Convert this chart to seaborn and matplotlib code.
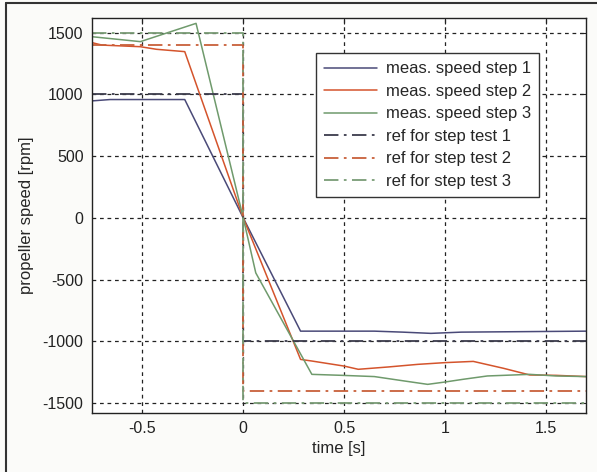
import numpy as np
import pandas as pd
import seaborn as sns
import matplotlib.pyplot as plt
from matplotlib.lines import Line2D

t1 = [-0.75, -0.66, -0.29, 0.0, 0.284, 0.65, 0.79, 0.93, 1.08, 1.7]
v1 = [948, 959, 959, 0, -917, -917, -925, -935, -925, -917]

t2 = [-0.75, -0.7, -0.51, -0.43, -0.29, 0.0, 0.284, 0.34, 0.5, 0.57, 0.72, 0.865, 1.0, 1.14, 1.29, 1.42, 1.55, 1.7]
v2 = [1420, 1400, 1387, 1366, 1347, 0, -1146, -1159, -1200, -1226, -1207, -1186, -1172, -1162, -1218, -1272, -1275, -1285]

t3 = [-0.75, -0.51, -0.234, 0.0, 0.062, 0.34, 0.49, 0.65, 0.8, 0.914, 1.0, 1.09, 1.21, 1.42, 1.55, 1.7]
v3 = [1468, 1428, 1576, 0, -445, -1267, -1275, -1285, -1321, -1348, -1329, -1307, -1280, -1267, -1280, -1285]

# reference steps
t_ref = [-0.75, 0.0, 0.0, 1.7]
r1 = [1000, 1000, -1000, -1000]
r2 = [1400, 1400, -1400, -1400]
r3 = [1500, 1500, -1500, -1500]

labels = ['meas. speed step 1', 'meas. speed step 2', 'meas. speed step 3',
          'ref for step test 1', 'ref for step test 2', 'ref for step test 3']
colors = ['#4a4a78', '#d4542c', '#6f9a6c', '#3c3c4c', '#c8603a', '#7a9c76']

sns.set_style('white')
plt.rcParams['font.family'] = ['Liberation Sans', 'DejaVu Sans']
plt.rcParams['axes.unicode_minus'] = False

fig = plt.figure(figsize=(5.97, 4.72), dpi=100, facecolor='#fbfbf9')
ax = fig.add_axes([0.154, 0.125, 0.828, 0.837])
ax.set_facecolor('white')

dash_ref = (8, 3, 1.5, 3)
series = [(t1, v1), (t2, v2), (t3, v3), (t_ref, r1), (t_ref, r2), (t_ref, r3)]
for i, (t, v) in enumerate(series):
    sns.lineplot(x=t, y=v, ax=ax, color=colors[i], estimator=None, sort=False,
                 lw=1.1 if i < 3 else 1.3, legend=False)
    if i >= 3:
        ax.lines[-1].set_dashes(dash_ref)

ax.set_xlim(-0.75, 1.7)
ax.set_ylim(-1580, 1620)
ax.set_xticks([-0.5, 0, 0.5, 1, 1.5])
ax.set_xticklabels(['-0.5', '0', '0.5', '1', '1.5'])
ax.set_yticks([-1500, -1000, -500, 0, 500, 1000, 1500])
ax.grid(True, color='#222222', linestyle=(0, (3, 3)), lw=0.9)
ax.tick_params(direction='in', length=4, labelsize=11.5, colors='#222222',
               top=True, right=True, pad=6)
for s in ax.spines.values():
    s.set_color('#222222')
    s.set_linewidth(1.0)

ax.set_xlabel('time [s]', fontsize=12, labelpad=3)
ax.set_ylabel('propeller speed [rpm]', fontsize=12, labelpad=6)

handles = []
for i in range(6):
    h = Line2D([], [], color=colors[i], lw=1.1 if i < 3 else 1.3)
    if i >= 3:
        h.set_dashes(dash_ref)
    handles.append(h)
leg = ax.legend(handles, labels, loc='upper right', bbox_to_anchor=(0.905, 0.911),
                borderaxespad=0, fontsize=12, fancybox=False, framealpha=1,
                edgecolor='#333333', handlelength=3.2, handletextpad=0.5,
                borderpad=0.5, labelspacing=0.45)
leg.get_frame().set_linewidth(1.0)

# outer frame of the original figure (only top and left visible)
fig.add_artist(Line2D([0.01, 1.0], [0.993, 0.993], color='#333333', lw=1.5, transform=fig.transFigure))
fig.add_artist(Line2D([0.01, 0.01], [0.0, 0.993], color='#333333', lw=1.5, transform=fig.transFigure))

fig.savefig('out.png', dpi=100, facecolor=fig.get_facecolor())
